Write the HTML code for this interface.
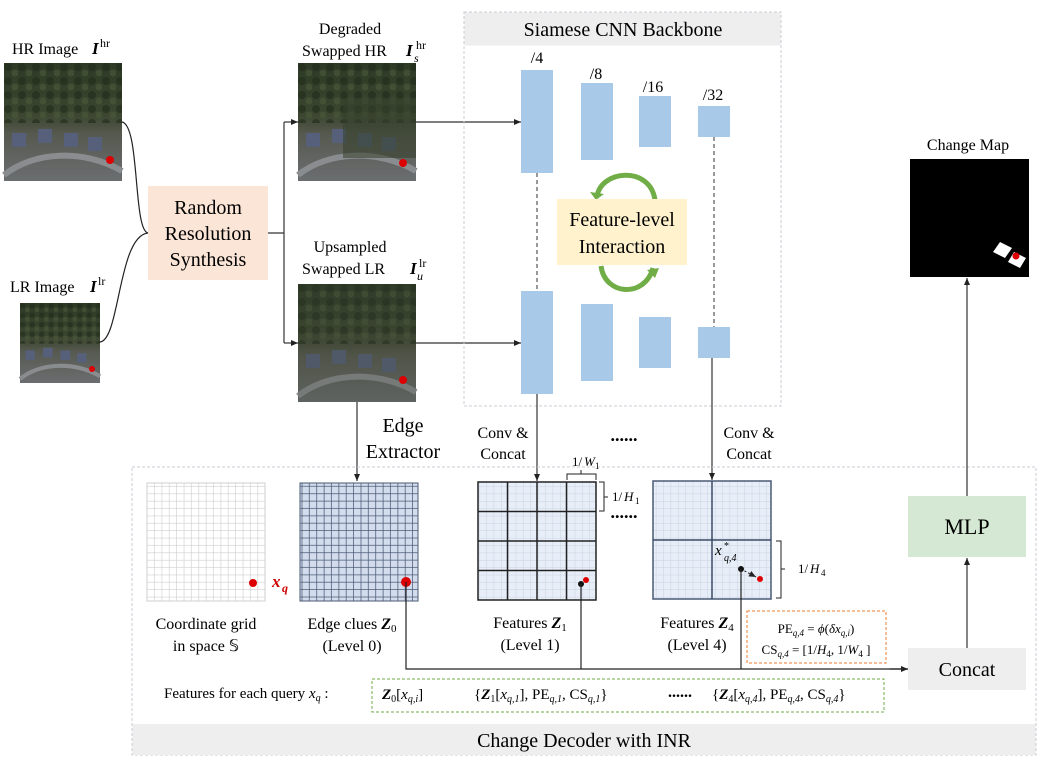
<!DOCTYPE html>
<html><head><meta charset="utf-8"><style>
html,body{margin:0;padding:0;background:#fff;}
svg{display:block;font-family:"Liberation Serif",serif;}
</style></head><body>
<svg width="1044" height="762" viewBox="0 0 1044 762" xmlns="http://www.w3.org/2000/svg">
<defs>
<marker id="ar" markerWidth="8" markerHeight="8" refX="7" refY="4" orient="auto" markerUnits="userSpaceOnUse"><path d="M0,1 L7,4 L0,7 z" fill="#222"/></marker>
<pattern id="g1" width="7.375" height="7.375" patternUnits="userSpaceOnUse"><path d="M7.375,0 V7.375 H0" fill="none" stroke="#cfcfcf" stroke-width="1.3"/></pattern>
<pattern id="g2" width="7.375" height="7.375" patternUnits="userSpaceOnUse"><path d="M7.375,0 V7.375 H0" fill="none" stroke="#4a5a75" stroke-width="1.5"/></pattern>
<pattern id="g3" width="7.375" height="7.375" patternUnits="userSpaceOnUse"><path d="M7.375,0 V7.375 H0" fill="none" stroke="#c9d2e0" stroke-width="1"/></pattern>
<pattern id="tex" width="14" height="14" patternUnits="userSpaceOnUse"><circle cx="4" cy="4" r="4" fill="#1f2a19" opacity="0.6"/><circle cx="11" cy="10" r="3.5" fill="#4b5a3a" opacity="0.6"/></pattern>
<linearGradient id="img2" x1="0" y1="0" x2="0" y2="1"><stop offset="0" stop-color="#2c3a25"/><stop offset="0.45" stop-color="#3c4630"/><stop offset="0.6" stop-color="#56594f"/><stop offset="1" stop-color="#6b6e70"/></linearGradient>
<g id="im">
<rect width="118" height="118" fill="url(#img2)"/>
<rect width="118" height="60" fill="url(#tex)"/>
<rect x="8" y="70" width="14" height="14" fill="#56607a"/><rect x="34" y="66" width="14" height="14" fill="#56607a"/><rect x="60" y="70" width="14" height="14" fill="#56607a"/><rect x="84" y="74" width="14" height="14" fill="#56607a"/>
<path d="M0,112 C30,88 80,86 118,108" stroke="#8a8d8f" stroke-width="6" fill="none"/>
</g>
</defs>

<!-- images -->
<text x="12" y="54" font-size="16">HR Image</text><text x="92" y="54" font-size="17" font-weight="bold" font-style="italic">I</text><text x="100" y="47" font-size="12">hr</text>
<use href="#im" x="4" y="63"/>
<circle cx="110" cy="160" r="4" fill="#d00"/>

<text x="10" y="292" font-size="16">LR Image</text><text x="90" y="292" font-size="17" font-weight="bold" font-style="italic">I</text><text x="98" y="285" font-size="12">lr</text>
<use href="#im" transform="translate(20,303) scale(0.678)"/>
<circle cx="92" cy="369" r="3" fill="#d00"/>

<path d="M122,122 C140,125 133,230 148,233" fill="none" stroke="#222" stroke-width="1.2"/>
<path d="M100,342 C120,340 118,236 148,233" fill="none" stroke="#222" stroke-width="1.2"/>

<rect x="148" y="186" width="120" height="94" fill="#fbe5d6"/>
<text x="208" y="214" font-size="20" text-anchor="middle">Random</text>
<text x="208" y="240" font-size="20" text-anchor="middle">Resolution</text>
<text x="208" y="266" font-size="20" text-anchor="middle">Synthesis</text>

<path d="M268,233 H284 M284,122 V343" stroke="#333" stroke-width="1.2" fill="none"/>
<line x1="284" y1="122" x2="298" y2="122" stroke="#333" stroke-width="1.2" marker-end="url(#ar)"/>
<line x1="284" y1="343" x2="298" y2="343" stroke="#333" stroke-width="1.2" marker-end="url(#ar)"/>

<text x="350" y="34" font-size="16" text-anchor="middle">Degraded</text>
<text x="302" y="56" font-size="16">Swapped HR</text><text x="406" y="56" font-size="17" font-weight="bold" font-style="italic">I</text><text x="416" y="49" font-size="12">hr</text><text x="414" y="62" font-size="12" font-style="italic">s</text>
<use href="#im" x="298" y="63"/>
<rect x="343" y="98" width="73" height="60" fill="#34402c" opacity="0.55"/>
<circle cx="403" cy="163" r="4" fill="#d00"/>

<text x="350" y="252" font-size="16" text-anchor="middle">Upsampled</text>
<text x="302" y="274" font-size="16">Swapped LR</text><text x="410" y="274" font-size="17" font-weight="bold" font-style="italic">I</text><text x="419" y="267" font-size="12">lr</text><text x="417" y="280" font-size="12" font-style="italic">u</text>
<use href="#im" x="298" y="284"/>
<rect x="298" y="284" width="118" height="118" fill="#3a4434" opacity="0.25"/>
<circle cx="403" cy="380" r="4" fill="#d00"/>

<line x1="416" y1="122" x2="521" y2="122" stroke="#333" stroke-width="1.2" marker-end="url(#ar)"/>
<line x1="416" y1="343" x2="521" y2="343" stroke="#333" stroke-width="1.2" marker-end="url(#ar)"/>

<!-- Siamese -->
<rect x="464" y="12" width="317" height="394" fill="none" stroke="#c8ccd4" stroke-dasharray="3,2"/>
<rect x="464.5" y="12.5" width="316" height="33" fill="#eeeeee"/>
<text x="623" y="36" font-size="20" text-anchor="middle">Siamese CNN Backbone</text>
<g fill="#a9c9e9">
<rect x="521" y="70" width="32" height="103"/><rect x="581" y="83" width="32" height="77"/><rect x="639" y="96" width="32" height="51"/><rect x="698" y="106" width="32" height="31"/>
<rect x="521" y="291" width="32" height="103"/><rect x="581" y="304" width="32" height="77"/><rect x="639" y="317" width="32" height="51"/><rect x="698" y="327" width="32" height="31"/>
</g>
<g font-size="16" text-anchor="middle"><text x="537" y="63">/4</text><text x="596" y="79">/8</text><text x="653" y="92">/16</text><text x="713" y="100">/32</text></g>
<line x1="537" y1="173" x2="537" y2="291" stroke="#333" stroke-dasharray="4,3"/>
<line x1="714" y1="137" x2="714" y2="327" stroke="#333" stroke-dasharray="4,3"/>
<path d="M597,197 C600,170 650,165 655,200" fill="none" stroke="#70ad47" stroke-width="5"/>
<path d="M590,192 L604,194 L596,200 z" fill="#70ad47"/>
<path d="M601,266 C605,296 645,298 653,268" fill="none" stroke="#70ad47" stroke-width="5"/>
<path d="M647,270 L659,268 L655,278 z" fill="#70ad47"/>
<rect x="557" y="199" width="130" height="66" fill="#fff2cc"/>
<text x="622" y="226" font-size="20" text-anchor="middle">Feature-level</text>
<text x="622" y="253" font-size="20" text-anchor="middle">Interaction</text>

<!-- change map -->
<text x="968" y="150" font-size="16" text-anchor="middle">Change Map</text>
<rect x="910" y="159" width="119" height="118" fill="#000"/>
<polygon points="993,252 1000,242 1012,248 1005,258" fill="#fff"/>
<polygon points="1008,262 1014,252 1026,258 1020,268" fill="#fff"/>
<circle cx="1016" cy="256" r="3.5" fill="#d00"/>

<!-- connectors to decoder -->
<line x1="357" y1="402" x2="357" y2="481" stroke="#333" stroke-width="1.2" marker-end="url(#ar)"/>
<text x="403" y="432" font-size="20" text-anchor="middle">Edge</text>
<text x="403" y="458" font-size="20" text-anchor="middle">Extractor</text>
<line x1="537" y1="394" x2="537" y2="481" stroke="#333" stroke-width="1.2" marker-end="url(#ar)"/>
<text x="503" y="438" font-size="16" text-anchor="middle">Conv &amp;</text>
<text x="503" y="459" font-size="16" text-anchor="middle">Concat</text>
<line x1="712" y1="358" x2="712" y2="480" stroke="#333" stroke-width="1.2" marker-end="url(#ar)"/>
<text x="749" y="438" font-size="16" text-anchor="middle">Conv &amp;</text>
<text x="749" y="459" font-size="16" text-anchor="middle">Concat</text>
<text x="624" y="441" font-size="18" text-anchor="middle" font-weight="bold">......</text>

<!-- decoder -->
<rect x="132" y="467" width="904" height="288" fill="none" stroke="#c8ccd4" stroke-dasharray="3,2"/>
<rect x="132.5" y="724" width="903" height="31" fill="#eeeeee"/>
<text x="584" y="747" font-size="20" text-anchor="middle">Change Decoder with INR</text>

<rect x="147" y="483" width="118" height="118" fill="url(#g1)" stroke="#cfcfcf"/>
<circle cx="253" cy="583" r="4" fill="#d00"/>
<text x="272" y="587" font-size="17" font-style="italic" font-weight="bold" fill="#c00">x</text><text x="282" y="592" font-size="12" font-style="italic" font-weight="bold" fill="#c00">q</text>

<rect x="300" y="483" width="118" height="118" fill="#d3dcec"/>
<rect x="300" y="483" width="118" height="118" fill="url(#g2)" stroke="#4a5a75"/>
<circle cx="406" cy="582" r="5" fill="#d00"/>

<rect x="478" y="482" width="118" height="118" fill="#e8eef8"/>
<rect x="478" y="482" width="118" height="118" fill="url(#g3)" stroke="#222" stroke-width="1.5"/>
<path d="M507.5,482 V600 M537,482 V600 M566.5,482 V600 M478,511.5 H596 M478,541 H596 M478,570.5 H596" stroke="#222" stroke-width="1.5"/>
<circle cx="581" cy="584" r="3" fill="#111"/><circle cx="586" cy="580" r="3" fill="#d00"/>
<path d="M567,480 V474 H596 V480 M581,474 V470" fill="none" stroke="#222"/>
<text x="572" y="466" font-size="13">1/</text><text x="584" y="466" font-size="13" font-style="italic">W</text><text x="595" y="469" font-size="9">1</text>
<path d="M599,482 H604 V511 H599 M604,497 H608" fill="none" stroke="#222"/>
<text x="612" y="501" font-size="13">1/</text><text x="624" y="501" font-size="13" font-style="italic">H</text><text x="635" y="504" font-size="9">1</text>

<text x="624" y="518" font-size="18" text-anchor="middle" font-weight="bold">......</text>

<rect x="653" y="481" width="118" height="118" fill="#e8eef8"/>
<rect x="653" y="481" width="118" height="118" fill="url(#g3)" stroke="#4a5a75" stroke-width="1.5"/>
<path d="M712,481 V599 M653,540 H771" stroke="#3a4a65" stroke-width="1.5"/>
<text x="715" y="555" font-size="15" font-style="italic">x</text><text x="724" y="549" font-size="10">*</text><text x="724" y="561" font-size="10" font-style="italic">q,4</text>
<circle cx="741" cy="569" r="3" fill="#111"/>
<line x1="741" y1="569" x2="756" y2="577" stroke="#111" stroke-dasharray="2,2" marker-end="url(#ar)"/>
<circle cx="760" cy="579" r="3" fill="#d00"/>
<path d="M776,541 H781 V598 H776 M781,569 H785" fill="none" stroke="#222"/>
<text x="798" y="573" font-size="13">1/</text><text x="810" y="573" font-size="13" font-style="italic">H</text><text x="821" y="576" font-size="9">4</text>

<g font-size="16" text-anchor="middle">
<text x="206" y="629">Coordinate grid</text><text x="206" y="651">in space 𝕊</text>
<text x="352" y="629">Edge clues <tspan font-weight="bold" font-style="italic">Z</tspan><tspan font-size="11" dy="3">0</tspan></text><text x="352" y="651">(Level 0)</text>
<text x="530" y="628">Features <tspan font-weight="bold" font-style="italic">Z</tspan><tspan font-size="11" dy="3">1</tspan></text><text x="530" y="650">(Level 1)</text>
<text x="697" y="628">Features <tspan font-weight="bold" font-style="italic">Z</tspan><tspan font-size="11" dy="3">4</tspan></text><text x="697" y="650">(Level 4)</text>
</g>
<rect x="747" y="611" width="139" height="52" fill="none" stroke="#ed7d31" stroke-dasharray="3,2"/>
<text x="816" y="633" font-size="13" text-anchor="middle">PE<tspan font-size="9" dy="3" font-style="italic">q,4</tspan><tspan dy="-3"> = </tspan><tspan font-style="italic">ϕ</tspan>(<tspan font-style="italic">δx</tspan><tspan font-size="9" dy="3" font-style="italic">q,i</tspan><tspan dy="-3">)</tspan></text>
<text x="816" y="654" font-size="13" text-anchor="middle">CS<tspan font-size="9" dy="3" font-style="italic">q,4</tspan><tspan dy="-3"> = [1/</tspan><tspan font-style="italic">H</tspan><tspan font-size="9" dy="3">4</tspan><tspan dy="-3">, 1/</tspan><tspan font-style="italic">W</tspan><tspan font-size="9" dy="3">4</tspan><tspan dy="-3"> ]</tspan></text>

<path d="M406,582 V669 H908 M581,584 V669 M741,569 V669" fill="none" stroke="#222" stroke-width="1.2"/>
<line x1="890" y1="669" x2="908" y2="669" stroke="#222" stroke-width="1.2" marker-end="url(#ar)"/>

<rect x="908" y="648" width="118" height="42" fill="#eeeeee"/>
<text x="967" y="676" font-size="20" text-anchor="middle">Concat</text>
<rect x="908" y="496" width="118" height="61" fill="#d5e8d4"/>
<text x="967" y="534" font-size="22" text-anchor="middle">MLP</text>
<line x1="967" y1="648" x2="967" y2="558" stroke="#333" stroke-width="1.2" marker-end="url(#ar)"/>
<line x1="967" y1="496" x2="967" y2="278" stroke="#333" stroke-width="1.2" marker-end="url(#ar)"/>

<rect x="372" y="679" width="512" height="33" fill="none" stroke="#70ad47" stroke-dasharray="3,2"/>
<text x="164" y="698" font-size="15">Features for each query <tspan font-style="italic">x</tspan><tspan font-size="10" dy="3" font-style="italic">q</tspan><tspan dy="-3"> :</tspan></text>
<text x="382" y="699" font-size="15"><tspan font-weight="bold" font-style="italic">Z</tspan><tspan font-size="10" dy="3">0</tspan><tspan dy="-3">[</tspan><tspan font-style="italic">x</tspan><tspan font-size="10" dy="3" font-style="italic">q,i</tspan><tspan dy="-3">]</tspan></text>
<text x="474" y="699" font-size="15">{<tspan font-weight="bold" font-style="italic">Z</tspan><tspan font-size="10" dy="3">1</tspan><tspan dy="-3">[</tspan><tspan font-style="italic">x</tspan><tspan font-size="10" dy="3" font-style="italic">q,1</tspan><tspan dy="-3">], PE</tspan><tspan font-size="10" dy="3" font-style="italic">q,1</tspan><tspan dy="-3">, CS</tspan><tspan font-size="10" dy="3" font-style="italic">q,1</tspan><tspan dy="-3">}</tspan></text>
<text x="680" y="697" font-size="16" text-anchor="middle" font-weight="bold">......</text>
<text x="712" y="699" font-size="15">{<tspan font-weight="bold" font-style="italic">Z</tspan><tspan font-size="10" dy="3">4</tspan><tspan dy="-3">[</tspan><tspan font-style="italic">x</tspan><tspan font-size="10" dy="3" font-style="italic">q,4</tspan><tspan dy="-3">], PE</tspan><tspan font-size="10" dy="3" font-style="italic">q,4</tspan><tspan dy="-3">, CS</tspan><tspan font-size="10" dy="3" font-style="italic">q,4</tspan><tspan dy="-3">}</tspan></text>
</svg>
</body></html>
